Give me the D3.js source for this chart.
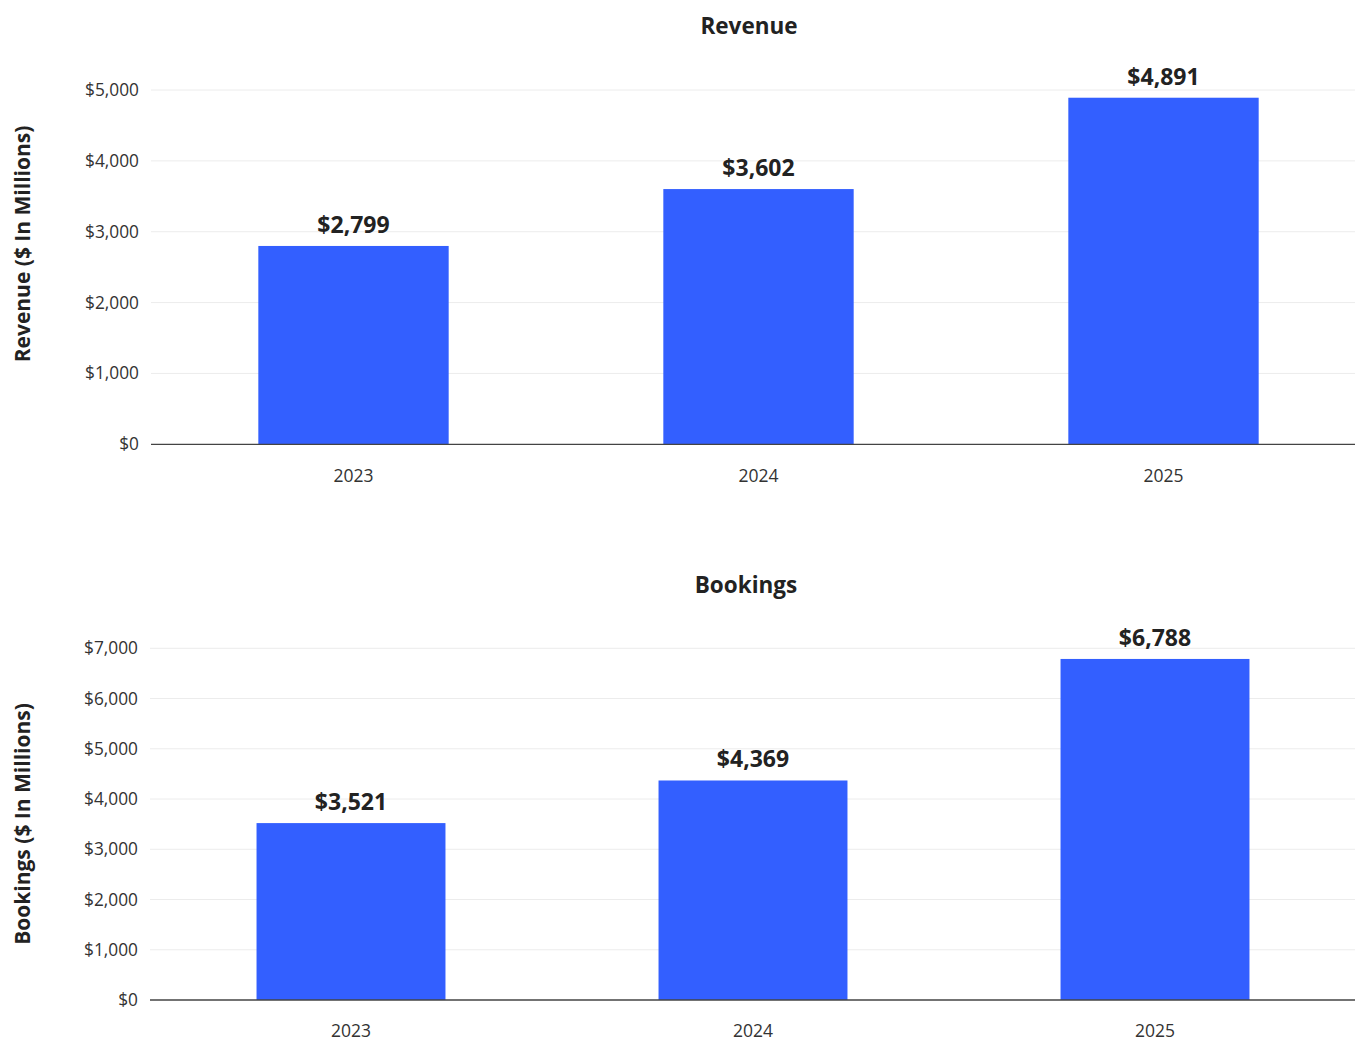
<!DOCTYPE html>
<html>
<head>
<meta charset="utf-8">
<script src="https://cdn.jsdelivr.net/npm/d3@7"></script>
<style>
  html, body { margin: 0; padding: 0; background: #fff; overflow: hidden; }
  svg { display: block; font-family: "Open Sans", "Noto Sans", sans-serif; }
</style>
</head>
<body>
<svg id="chart" width="1355" height="1041"></svg>
<script>
// Annual figures, $ in millions
const years = ["2023", "2024", "2025"];
const revenue = [2799, 3602, 4891];
const bookings = [3521, 4369, 6788];
const revenueTicks = [0, 1000, 2000, 3000, 4000, 5000];
const bookingsTicks = [0, 1000, 2000, 3000, 4000, 5000, 6000, 7000];

const svg = d3.select("#chart");
const W = 1355;
const barColor = "#335FFF";
const textColor = "#222222";
const fmt = v => "$" + d3.format(",")(v);

function panel(cfg) {
  const g = svg.append("g");

  const x = d3.scaleBand()
    .domain(cfg.categories)
    .range([cfg.left, cfg.right])
    .paddingInner(0.53)
    .paddingOuter(0.265);

  const y = d3.scaleLinear()
    .domain([0, cfg.max])
    .range([cfg.bottom, cfg.top]);

  // horizontal gridlines
  g.append("g")
    .selectAll("line")
    .data(cfg.ticks.filter(t => t > 0))
    .join("line")
    .attr("x1", cfg.left).attr("x2", W)
    .attr("y1", d => y(d)).attr("y2", d => y(d))
    .attr("stroke", "#ececec").attr("stroke-width", 1);

  // y-axis tick labels
  const yAxis = d3.axisLeft(y).tickValues(cfg.ticks).tickFormat(fmt).tickSize(0).tickPadding(12);
  const ya = g.append("g").attr("transform", `translate(${cfg.left},0)`).call(yAxis);
  ya.select(".domain").remove();
  ya.selectAll("text")
    .attr("font-size", 17.3).attr("fill", "#333")
    .attr("font-family", '"Open Sans", "Noto Sans", sans-serif');

  // bars
  g.append("g")
    .selectAll("rect")
    .data(cfg.values)
    .join("rect")
    .attr("x", (d, i) => x(cfg.categories[i]))
    .attr("width", x.bandwidth())
    .attr("y", d => y(d))
    .attr("height", d => y(0) - y(d))
    .attr("fill", barColor);

  // value labels
  g.append("g")
    .selectAll("text")
    .data(cfg.values)
    .join("text")
    .attr("x", (d, i) => x(cfg.categories[i]) + x.bandwidth() / 2)
    .attr("y", d => y(d) - 13)
    .attr("text-anchor", "middle")
    .attr("font-size", 23).attr("font-weight", 700)
    .attr("fill", textColor)
    .text(fmt);

  // x-axis baseline and labels
  g.append("line")
    .attr("x1", cfg.left).attr("x2", W)
    .attr("y1", y(0)).attr("y2", y(0))
    .attr("stroke", "#444").attr("stroke-width", 1.3);

  const xAxis = d3.axisBottom(x).tickSize(0).tickPadding(25);
  const xa = g.append("g").attr("transform", `translate(0,${y(0)})`).call(xAxis);
  xa.select(".domain").remove();
  xa.selectAll("text")
    .attr("font-size", 17.5).attr("fill", "#333")
    .attr("font-family", '"Open Sans", "Noto Sans", sans-serif');

  // chart title
  g.append("text")
    .attr("x", cfg.titleX).attr("y", cfg.titleY)
    .attr("text-anchor", "middle")
    .attr("font-size", 22.5).attr("font-weight", 700)
    .attr("fill", textColor)
    .text(cfg.title);

  // y-axis title
  g.append("text")
    .attr("transform", `translate(30,${cfg.yTitleY}) rotate(-90)`)
    .attr("text-anchor", "middle")
    .attr("font-size", 21).attr("font-weight", 700)
    .attr("fill", textColor)
    .text(cfg.yTitle);
}

panel({
  title: "Revenue", titleX: 749, titleY: 34,
  yTitle: "Revenue ($ In Millions)", yTitleY: 244,
  categories: years, values: revenue, ticks: revenueTicks, max: 5000,
  left: 151, right: 1366, top: 90, bottom: 444.3
});

panel({
  title: "Bookings", titleX: 746, titleY: 593,
  yTitle: "Bookings ($ In Millions)", yTitleY: 824,
  categories: years, values: bookings, ticks: bookingsTicks, max: 7000,
  left: 150, right: 1356, top: 648.3, bottom: 1000
});
</script>
</body>
</html>
